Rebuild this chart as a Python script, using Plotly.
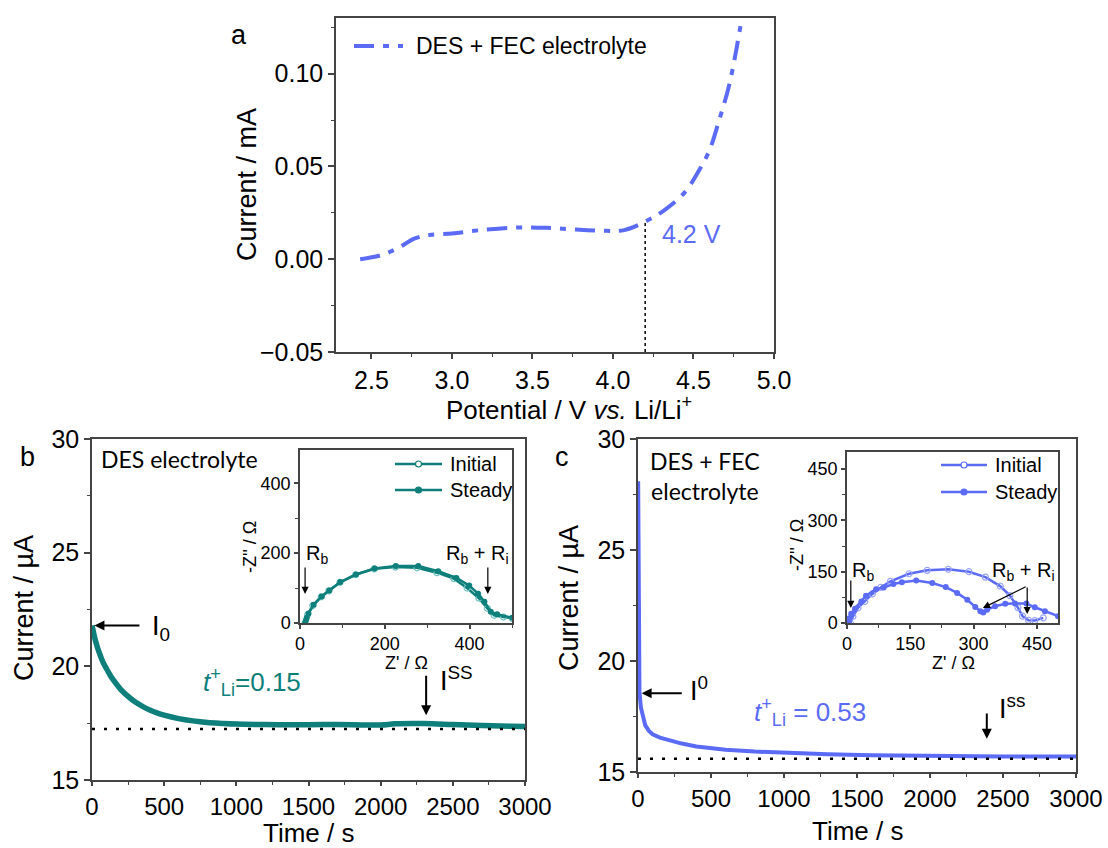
import plotly.graph_objects as go

BLUE = "#5B6BF5"
TEAL = "#0E7F7A"
AXC = "#444444"
FONT = "Liberation Sans, Arial, sans-serif"
CAL = "Lato, Carlito, sans-serif"

# ---------------- panel a : LSV ----------------
a_potential = [2.43, 2.56, 2.66, 2.77, 2.86, 3.00, 3.18, 3.41, 3.59, 3.77, 3.96, 4.07,
               4.21, 4.32, 4.44, 4.53, 4.60, 4.66, 4.72, 4.77, 4.80]
a_current = [0.000, 0.0022, 0.0058, 0.0112, 0.0130, 0.0139, 0.0157, 0.0171, 0.0169, 0.0160,
             0.0153, 0.0157, 0.0207, 0.0265, 0.0355, 0.0472, 0.0589, 0.0751, 0.0932, 0.1148, 0.130]
a_onset_v = 4.2
a_onset_i = 0.0205

# ---------------- panel b : DES chronoamperometry ----------------
b_time = [0, 25, 50, 75, 100, 125, 150, 200, 250, 300, 350, 400, 450, 500, 600, 700, 800, 900,
          1000, 1200, 1400, 1600, 1800, 2000, 2100, 2300, 2500, 2700, 2900, 3000]
b_current = [21.8, 21.1, 20.6, 20.2, 19.9, 19.62, 19.38, 18.98, 18.68, 18.43, 18.24, 18.08, 17.95,
             17.85, 17.70, 17.60, 17.53, 17.49, 17.46, 17.44, 17.43, 17.44, 17.43, 17.42, 17.47,
             17.48, 17.44, 17.40, 17.36, 17.35]
b_iss_line = 17.24
b_i0 = 21.8

# inset b : EIS
b_init_zre = [12, 18, 30, 50, 68, 94, 131, 175, 225, 276, 323, 363, 394, 422, 442, 458, 480, 501]
b_init_zim = [0, 24, 50, 75, 92, 116, 138, 155, 160, 158, 144, 127, 100, 71, 42, 22, 17, 13]
b_stdy_zre = [12, 14, 16, 20, 32, 51, 69, 95, 132, 176, 226, 279, 326, 369, 399, 420, 435, 450, 465, 501]
b_stdy_zim = [0, 8, 15, 27, 52, 76, 93, 117, 139, 156, 163, 163, 148, 129, 107, 84, 61, 32, 25, 15]

# ---------------- panel c : DES + FEC chronoamperometry ----------------
c_time = [1, 3, 5, 10, 20, 37, 50, 75, 100, 150, 200, 300, 400, 500, 600, 800, 1000, 1300,
          1600, 2000, 2500, 3000]
c_current = [28.1, 22.0, 19.2, 18.6, 17.9, 17.4, 17.1, 16.85, 16.7, 16.55, 16.45, 16.28,
             16.15, 16.07, 16.0, 15.92, 15.86, 15.8, 15.76, 15.72, 15.7, 15.7]
c_iss_line = 15.6
c_i0 = 18.55

# inset c : EIS
c_init_zre = [8, 14, 26, 42, 60, 80, 103, 147, 190, 240, 289, 328, 363, 386, 405, 416, 430, 445, 465]
c_init_zim = [0, 19, 44, 63, 85, 104, 122, 144, 154, 157, 150, 134, 108, 80, 45, 20, 8, 7, 15]
c_stdy_zre = [2, 6, 10, 19, 34, 45, 69, 87, 110, 130, 164, 202, 234, 261, 285, 304, 316, 323,
              332, 351, 375, 398, 425, 445, 469, 500]
c_stdy_zim = [0, 14, 27, 42, 63, 80, 99, 104, 114, 119, 124, 117, 105, 88, 68, 47, 34, 31,
              39, 49, 56, 57, 57, 46, 34, 20]

W, H = 1108, 848


def px(x):
    return x / W


def py(y):
    return 1 - y / H


fig = go.Figure()

# panel a
fig.add_trace(go.Scatter(x=a_potential, y=a_current, mode="lines", name="DES + FEC electrolyte",
                         line=dict(color=BLUE, width=4, dash="20px,9px,6px,9px", shape="spline"),
                         xaxis="x", yaxis="y", showlegend=False))
fig.add_trace(go.Scatter(x=[a_onset_v, a_onset_v], y=[-0.05, a_onset_i], mode="lines",
                         line=dict(color="black", width=1.5, dash="dot"), showlegend=False,
                         xaxis="x", yaxis="y"))

# panel b
fig.add_trace(go.Scatter(x=b_time, y=b_current, mode="lines", line=dict(color=TEAL, width=5.5, shape="spline"),
                         showlegend=False, xaxis="x2", yaxis="y2"))
fig.add_trace(go.Scatter(x=[0, 3000], y=[b_iss_line, b_iss_line], mode="lines",
                         line=dict(color="black", width=2.5, dash="3px,9px"), showlegend=False,
                         xaxis="x2", yaxis="y2"))
# inset b
fig.add_trace(go.Scatter(x=b_init_zre, y=b_init_zim, mode="lines+markers", name="Initial",
                         line=dict(color=TEAL, width=2.5),
                         marker=dict(symbol="circle-open", size=6, color="#6fc4c0", line=dict(width=1.2)),
                         xaxis="x3", yaxis="y3", showlegend=False))
fig.add_trace(go.Scatter(x=b_stdy_zre, y=b_stdy_zim, mode="lines+markers", name="Steady",
                         line=dict(color=TEAL, width=2.5),
                         marker=dict(symbol="circle", size=6, color=TEAL),
                         xaxis="x3", yaxis="y3", showlegend=False))

# panel c
fig.add_trace(go.Scatter(x=c_time, y=c_current, mode="lines", line=dict(color=BLUE, width=4),
                         showlegend=False, xaxis="x4", yaxis="y4"))
fig.add_trace(go.Scatter(x=[0, 3000], y=[c_iss_line, c_iss_line], mode="lines",
                         line=dict(color="black", width=2.5, dash="3px,9px"), showlegend=False,
                         xaxis="x4", yaxis="y4"))
# inset c
fig.add_trace(go.Scatter(x=c_init_zre, y=c_init_zim, mode="lines+markers", name="Initial",
                         line=dict(color=BLUE, width=2.5),
                         marker=dict(symbol="circle-open", size=6, color="#9aa4f8", line=dict(width=1.2)),
                         xaxis="x5", yaxis="y5", showlegend=False))
fig.add_trace(go.Scatter(x=c_stdy_zre, y=c_stdy_zim, mode="lines+markers", name="Steady",
                         line=dict(color=BLUE, width=2.5),
                         marker=dict(symbol="circle", size=6, color=BLUE),
                         xaxis="x5", yaxis="y5", showlegend=False))


def ax(domain, rng, dtick, minor_dtick, tfs=25, anchor=None, tickformat=None, ticklen=6):
    d = dict(domain=domain, range=rng, dtick=dtick, tick0=0, showgrid=False, zeroline=False,
             showline=True, linecolor=AXC, linewidth=1.5, mirror=True, automargin=False,
             ticks="outside", ticklen=ticklen, tickwidth=1.5, tickcolor=AXC,
             minor=dict(ticks="outside", ticklen=3, tickwidth=1.2, tickcolor=AXC, dtick=minor_dtick),
             tickfont=dict(family=FONT, size=tfs, color="black"))
    if anchor:
        d["anchor"] = anchor
    if tickformat:
        d["tickformat"] = tickformat
    return d


layout = dict(
    width=W, height=H, margin=dict(l=0, r=0, t=0, b=0, autoexpand=False),
    paper_bgcolor="white", plot_bgcolor="white", showlegend=False,
    xaxis=ax([px(336), px(774)], [2.28, 5.0], 0.5, 0.25, anchor="y", tickformat=".1f", ticklen=5),
    yaxis=ax([py(352), py(18)], [-0.05, 0.13], 0.05, 0.025, anchor="x", tickformat=".2f"),
    xaxis2=ax([px(92), px(525)], [0, 3000], 500, 250, tfs=24, anchor="y2", ticklen=4),
    yaxis2=ax([py(780), py(439)], [15, 30], 5, 2.5, anchor="x2"),
    xaxis3=ax([px(300), px(512)], [0, 500], 200, 100, tfs=18, anchor="y3", ticklen=4),
    yaxis3=ax([py(623), py(450)], [0, 495], 200, 100, tfs=18, anchor="x3", ticklen=4),
    xaxis4=ax([px(638), px(1076)], [0, 3000], 500, 250, tfs=24, anchor="y4", ticklen=4),
    yaxis4=ax([py(772), py(439)], [15, 30], 5, 2.5, anchor="x4"),
    xaxis5=ax([px(847), px(1058)], [0, 500], 150, 75, tfs=18, anchor="y5", ticklen=4),
    yaxis5=ax([py(623), py(452)], [0, 500], 150, 75, tfs=18, anchor="x5", ticklen=4),
)
fig.update_layout(**layout)

ann = []
shapes = []


def text(x, y, t, xref="paper", yref="paper", size=26, color="black", xanchor="left", family=FONT,
         yanchor="middle", align="left", angle=0):
    if xref == "paper":
        x = px(x)
    if yref == "paper":
        y = py(y)
    ann.append(dict(x=x, y=y, xref=xref, yref=yref, text=t, showarrow=False, xanchor=xanchor,
                    yanchor=yanchor, align=align, textangle=angle,
                    font=dict(family=family, size=size, color=color)))


def arrow(x, y, axv, ayv, xref, yref, width=2, size=1.0, head=2):
    ann.append(dict(x=x, y=y, ax=axv, ay=ayv, xref=xref, yref=yref, axref=xref, ayref=yref,
                    text="", showarrow=True, arrowhead=head, arrowsize=size, arrowwidth=width,
                    arrowcolor="black"))


def legend_item(x0, x1, y, label, color, dash=None, marker=None, width=2.5, fsize=20, gap=6):
    line = dict(color=color, width=width)
    if dash:
        line["dash"] = dash
    shapes.append(dict(type="line", xref="paper", yref="paper", x0=px(x0), x1=px(x1), y0=py(y), y1=py(y),
                       line=line))
    if marker:
        cx = (x0 + x1) / 2
        r = 3
        fill = color if marker == "filled" else "white"
        shapes.append(dict(type="circle", xref="paper", yref="paper", x0=px(cx - r), x1=px(cx + r),
                           y0=py(y + r), y1=py(y - r), fillcolor=fill, line=dict(color=color, width=1.2)))
    text(x1 + gap, y, label, size=fsize)


# axis titles
text(247, 185, "Current / mA", size=27, xanchor="center", angle=-90)
text(569, 408, "Potential / V <i>vs.</i> Li/Li<sup>+</sup>", size=26, xanchor="center")
text(24, 608, "Current / µA", size=27, xanchor="center", angle=-90)
text(308, 833, "Time / s", size=26, xanchor="center")
text(569, 598, "Current / µA", size=27, xanchor="center", angle=-90)
text(857, 831, "Time / s", size=26, xanchor="center")
text(250, 547, "-Z'' / Ω", size=18, xanchor="center", angle=-90)
text(406, 663, "Z' / Ω", size=18, xanchor="center")
text(797, 545, "-Z'' / Ω", size=18, xanchor="center", angle=-90)
text(953, 663, "Z' / Ω", size=18, xanchor="center")

# legends
legend_item(354, 403, 46, "DES + FEC electrolyte", BLUE, dash="20px,9px,6px,9px", width=4, fsize=23, gap=11)
legend_item(395, 442, 464, "Initial", TEAL, marker="open")
legend_item(395, 442, 490, "Steady", TEAL, marker="filled")
legend_item(941, 987, 465, "Initial", BLUE, marker="open")
legend_item(941, 987, 492, "Steady", BLUE, marker="filled")

# panel labels
text(229, 35, "a", size=27)
text(18, 457, "b", size=27)
text(553, 457, "c", size=27)

# panel a
text(4.29, 0.0137, "4.2 V", xref="x", yref="y", size=25, color=BLUE)

# panel b
text(45, 29.1, "DES electrolyte", xref="x2", yref="y2", size=23, family=CAL)
arrow(17, b_i0, 339, b_i0, "x2", "y2")
text(405, b_i0 - 0.1, "I<sub>0</sub>", xref="x2", yref="y2", size=27)
text(755, 19.3, "<i>t</i><sup>+</sup><sub>Li</sub>=0.15", xref="x2", yref="y2", size=26, color=TEAL)
arrow(2315, 17.85, 2315, 19.65, "x2", "y2")
text(2395, 19.45, "I<sup>SS</sup>", xref="x2", yref="y2", size=27)
# inset b
text(10, 195, "R<sub>b</sub>", xref="x3", yref="y3", size=20)
arrow(12, 83, 12, 163, "x3", "y3", width=1.2, size=1.2)
text(497, 195, "R<sub>b</sub> + R<sub>i</sub>", xref="x3", yref="y3", size=20, xanchor="right")
arrow(443, 83, 443, 163, "x3", "y3", width=1.2, size=1.2)

# panel c
text(459, 28.35, "DES + FEC<br>electrolyte", xref="x4", yref="y4", size=23, family=CAL,
     xanchor="center", align="center")
arrow(25, c_i0, 310, c_i0, "x4", "y4")
text(345, c_i0 + 0.2, "I<sup>0</sup>", xref="x4", yref="y4", size=27)
text(780, 17.7, "<i>t</i><sup>+</sup><sub>Li</sub> = 0.53", xref="x4", yref="y4", size=26, color=BLUE)
arrow(2389, 16.5, 2389, 17.7, "x4", "y4")
text(2460, 17.95, "I<sup>ss</sup>", xref="x4", yref="y4", size=27)
# inset c
text(8, 150, "R<sub>b</sub>", xref="x5", yref="y5", size=20)
arrow(9, 44, 9, 129, "x5", "y5", width=1.2, size=1.2)
text(497, 150, "R<sub>b</sub> + R<sub>i</sub>", xref="x5", yref="y5", size=20, xanchor="right")
arrow(322, 44, 427, 108, "x5", "y5", width=1.2, size=1.2)
arrow(427, 26, 427, 108, "x5", "y5", width=1.2, size=1.2)

fig.update_layout(annotations=ann, shapes=shapes)
fig.write_html("out.html")
